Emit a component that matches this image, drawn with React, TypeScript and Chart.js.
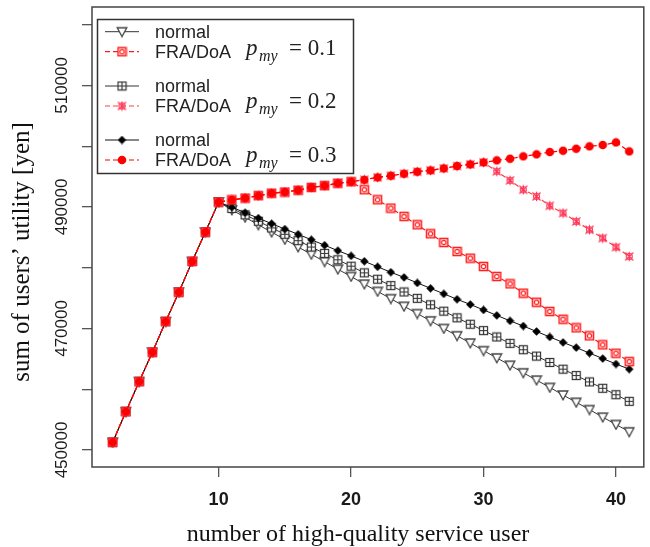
import React, { useEffect, useRef } from 'react';
import { Chart, registerables } from 'chart.js';

Chart.register(...registerables);

// ---------------- data ----------------
const xValues = [2, 3, 4, 5, 6, 7, 8, 9, 10, 11, 12, 13, 14, 15, 16, 17, 18, 19, 20, 21, 22, 23, 24, 25, 26, 27, 28, 29, 30, 31, 32, 33, 34, 35, 36, 37, 38, 39, 40, 41];
const xTicks = [10, 20, 30, 40];
const yTicks = [450000, 460000, 470000, 480000, 490000, 500000, 510000, 520000];
const yLabelTicks = [450000, 470000, 490000, 510000];

// shared rising part, x = 2..10
const rise = [451270, 456310, 461250, 466090, 471130, 475970, 481020, 485860, 490800];
// normal, x = 11..41
const normal01Tail = [489500, 488300, 487050, 485850, 484650, 483400, 482200, 481000, 479750, 478550, 477300, 476100, 474900, 473650, 472450, 471250, 470000, 468800, 467600, 466350, 465150, 463950, 462700, 461500, 460300, 459050, 457850, 456650, 455400, 454200, 453000];
const normal02Tail = [489750, 488700, 487650, 486550, 485500, 484450, 483400, 482350, 481300, 480250, 479150, 478100, 477050, 476000, 474950, 473900, 472850, 471750, 470700, 469650, 468600, 467550, 466500, 465450, 464400, 463300, 462250, 461200, 460150, 459100, 458000];
const normal03Tail = [489950, 489050, 488150, 487250, 486350, 485500, 484600, 483700, 482800, 481950, 481050, 480150, 479250, 478400, 477500, 476600, 475700, 474800, 473950, 473050, 472150, 471250, 470400, 469500, 468600, 467700, 466850, 465950, 465050, 464150, 463300];
// FRA/DoA shared climb, x = 11..40
const fraClimb = [491150, 491450, 491850, 492250, 492450, 492750, 493200, 493500, 493900, 494150, 494470, 494860, 495130, 495460, 495790, 496010, 496340, 496730, 497000, 497330, 497660, 497930, 498320, 498650, 499030, 499250, 499580, 499970, 500190, 500620];
// FRA/DoA p=0.1 drop, x = 21..41
const fra01Drop = [492830, 491180, 489810, 488440, 487060, 485580, 484150, 482670, 481570, 480200, 478550, 477340, 475810, 474320, 472790, 471520, 470100, 468780, 467300, 465920, 464550];
// FRA/DoA p=0.2 drop, x = 31..41
const fra02Drop = [495850, 494360, 492830, 491730, 490190, 488980, 487610, 486240, 484870, 483380, 481850];
// FRA/DoA p=0.3 last point, x = 41
const fra03Last = [499140];

const seriesLabels = ['normal', 'FRA/DoA', 'normal', 'FRA/DoA', 'normal', 'FRA/DoA'];
const pmyValues = ['0.1', '0.2', '0.3'];
const xTitle = 'number of high-quality service user';
const yTitle = 'sum of users\u2019 utility [yen]';

const normal01 = [...rise, ...normal01Tail];
const normal02 = [...rise, ...normal02Tail];
const normal03 = [...rise, ...normal03Tail];
const fra01 = [...rise, ...fraClimb.slice(0, 10), ...fra01Drop];
const fra02 = [...rise, ...fraClimb.slice(0, 20), ...fra02Drop];
const fra03 = [...rise, ...fraClimb, ...fra03Last];

// ---------------- markers ----------------
function makeMarker(w: number, h: number, draw: (c: CanvasRenderingContext2D) => void) {
  const cv = document.createElement('canvas');
  cv.width = w;
  cv.height = h;
  const c = cv.getContext('2d') as CanvasRenderingContext2D;
  draw(c);
  return cv;
}

function buildMarkers() {
  const tri = makeMarker(12, 12, (c) => {
    c.beginPath();
    c.moveTo(1.2, 2);
    c.lineTo(10.8, 2);
    c.lineTo(6, 10.8);
    c.closePath();
    c.fillStyle = '#fff';
    c.fill();
    c.strokeStyle = '#444';
    c.lineWidth = 1.3;
    c.stroke();
  });
  const sqPlus = makeMarker(11, 11, (c) => {
    c.fillStyle = '#fff';
    c.fillRect(1.5, 1.5, 8, 8);
    c.strokeStyle = '#333';
    c.lineWidth = 1.2;
    c.strokeRect(1.5, 1.5, 8, 8);
    c.beginPath();
    c.moveTo(5.5, 1.5);
    c.lineTo(5.5, 9.5);
    c.moveTo(1.5, 5.5);
    c.lineTo(9.5, 5.5);
    c.stroke();
  });
  const diamond = makeMarker(9, 9, (c) => {
    c.beginPath();
    c.moveTo(4.5, 0.3);
    c.lineTo(8.7, 4.5);
    c.lineTo(4.5, 8.7);
    c.lineTo(0.3, 4.5);
    c.closePath();
    c.fillStyle = '#000';
    c.fill();
  });
  const sqCircle = makeMarker(11, 11, (c) => {
    c.fillStyle = '#fff';
    c.fillRect(1.5, 1.5, 8, 8);
    c.strokeStyle = '#f22';
    c.lineWidth = 1.6;
    c.strokeRect(1.5, 1.5, 8, 8);
    c.beginPath();
    c.arc(5.5, 5.5, 2.2, 0, Math.PI * 2);
    c.lineWidth = 1.2;
    c.stroke();
  });
  const xCircle = makeMarker(11, 11, (c) => {
    c.strokeStyle = '#f35';
    c.lineWidth = 1.1;
    c.beginPath();
    c.moveTo(1.5, 1.5);
    c.lineTo(9.5, 9.5);
    c.moveTo(9.5, 1.5);
    c.lineTo(1.5, 9.5);
    c.moveTo(5.5, 0.8);
    c.lineTo(5.5, 10.2);
    c.stroke();
    c.beginPath();
    c.arc(5.5, 5.5, 3, 0, Math.PI * 2);
    c.stroke();
  });
  const dot = makeMarker(10, 10, (c) => {
    c.beginPath();
    c.arc(5, 5, 4.3, 0, Math.PI * 2);
    c.fillStyle = '#ff0000';
    c.fill();
  });
  return { tri, sqPlus, diamond, sqCircle, xCircle, dot };
}

// ---------------- plugin: box, titles, legend ----------------
const decorPlugin = {
  id: 'decor',
  afterDraw(chart: any) {
    const { ctx, chartArea: a } = chart;
    ctx.save();
    ctx.strokeStyle = '#444';
    ctx.lineWidth = 1.5;
    ctx.setLineDash([]);
    ctx.strokeRect(a.left, a.top, a.right - a.left, a.bottom - a.top);

    // axis titles
    ctx.fillStyle = '#111';
    ctx.textAlign = 'center';
    ctx.textBaseline = 'alphabetic';
    ctx.font = '24px "Liberation Serif"';
    ctx.fillText(xTitle, 358, 541);
    ctx.save();
    ctx.translate(29, 252);
    ctx.rotate(-Math.PI / 2);
    ctx.font = '25px "Liberation Serif"';
    ctx.fillText(yTitle, 0, 0);
    ctx.restore();

    // legend box
    const bx = 97.5, by = 19.5, bw = 256, bh = 154;
    ctx.fillStyle = '#fff';
    ctx.fillRect(bx, by, bw, bh);
    ctx.strokeStyle = '#333';
    ctx.lineWidth = 1.5;
    ctx.strokeRect(bx, by, bw, bh);

    const rowsY = [31.7, 51.7, 86, 106, 140, 160];
    const datasets = chart.data.datasets;
    for (let i = 0; i < seriesLabels.length; i++) {
      const ds = datasets[i];
      const y = rowsY[i];
      ctx.save();
      ctx.strokeStyle = ds.borderColor;
      ctx.lineWidth = ds.borderWidth;
      ctx.setLineDash(ds.borderDash || []);
      ctx.beginPath();
      ctx.moveTo(105, y);
      ctx.lineTo(139, y);
      ctx.stroke();
      ctx.restore();
      const img = ds.pointStyle as HTMLCanvasElement;
      ctx.drawImage(img, 122 - img.width / 2, y - img.height / 2);
      ctx.fillStyle = '#222';
      ctx.textAlign = 'left';
      ctx.textBaseline = 'middle';
      ctx.font = '18px "Liberation Sans"';
      ctx.fillText(seriesLabels[i], 155, y + 1);
    }

    const pBase = [55, 108, 162];
    for (let k = 0; k < pmyValues.length; k++) {
      const yb = pBase[k];
      ctx.fillStyle = '#222';
      ctx.textAlign = 'left';
      ctx.textBaseline = 'alphabetic';
      ctx.font = 'italic 23px "Liberation Serif"';
      ctx.fillText('p', 246, yb);
      ctx.font = 'italic 16px "Liberation Serif"';
      ctx.fillText('my', 259, yb + 6);
      ctx.font = '23px "Liberation Serif"';
      ctx.fillText('= ' + pmyValues[k], 289, yb);
    }
    ctx.restore();
  },
};

export default function App() {
  const ref = useRef<HTMLCanvasElement | null>(null);

  useEffect(() => {
    if (!ref.current) return;
    const m = buildMarkers();
    const mk = (label: string, values: number[], color: string, dash: number[], marker: HTMLCanvasElement, width: number, order: number) => ({
      label,
      data: xValues.map((x, i) => ({ x, y: values[i] })),
      borderColor: color,
      backgroundColor: color,
      borderWidth: width,
      borderDash: dash,
      pointStyle: marker,
      pointRadius: 5,
      pointHoverRadius: 5,
      fill: false,
      tension: 0,
      order,
    });
    const chart = new Chart(ref.current, {
      type: 'line',
      data: {
        datasets: [
          mk(seriesLabels[0], normal01, '#333', [], m.tri, 1, 5),
          mk(seriesLabels[1], fra01, '#ff1a1a', [5, 3], m.sqCircle, 1.2, 2),
          mk(seriesLabels[2], normal02, '#333', [], m.sqPlus, 1, 4),
          mk(seriesLabels[3], fra02, '#ff4040', [5, 3], m.xCircle, 1.2, 1),
          mk(seriesLabels[4], normal03, '#111', [], m.diamond, 1, 3),
          mk(seriesLabels[5], fra03, '#ff0000', [5, 3], m.dot, 1.2, 0),
        ] as any,
      },
      options: {
        animation: false,
        responsive: false,
        devicePixelRatio: 1,
        layout: { padding: { left: 0, right: 2, top: 7, bottom: 0 } },
        plugins: { legend: { display: false }, tooltip: { enabled: false } },
        scales: {
          x: {
            type: 'linear',
            min: 0.44,
            max: 42.1,
            afterBuildTicks: (scale: any) => {
              scale.ticks = xTicks.map((v) => ({ value: v }));
            },
            afterFit: (scale: any) => {
              scale.height = 80;
            },
            grid: { drawOnChartArea: false, drawTicks: true, tickLength: 10, color: '#555', lineWidth: 1.3 },
            border: { display: false },
            ticks: {
              padding: 12,
              color: '#1a1a1a',
              font: { family: '"Liberation Sans"', size: 18, weight: 'bold' },
              maxRotation: 0,
              autoSkip: false,
              callback: (v: any) => String(v),
            },
          },
          y: {
            type: 'linear',
            min: 447200,
            max: 522900,
            afterBuildTicks: (scale: any) => {
              scale.ticks = yTicks.map((v) => ({ value: v }));
            },
            afterFit: (scale: any) => {
              scale.width = 92;
            },
            grid: { drawOnChartArea: false, drawTicks: true, tickLength: 10, color: '#555', lineWidth: 1.3 },
            border: { display: false },
            ticks: {
              padding: -9,
              color: '#1a1a1a',
              font: { family: '"Liberation Sans"', size: 17 },
              minRotation: 90,
              maxRotation: 90,
              crossAlign: 'center',
              autoSkip: false,
              callback: (v: any) => (yLabelTicks.includes(Number(v)) ? String(v) : ''),
            },
          },
        },
      } as any,
      plugins: [decorPlugin],
    });
    return () => chart.destroy();
  }, []);

  return (
    <div style={{ position: 'fixed', left: 0, top: 0, width: 650, height: 547, background: '#fff' }}>
      <canvas ref={ref} width={650} height={547} />
    </div>
  );
}
